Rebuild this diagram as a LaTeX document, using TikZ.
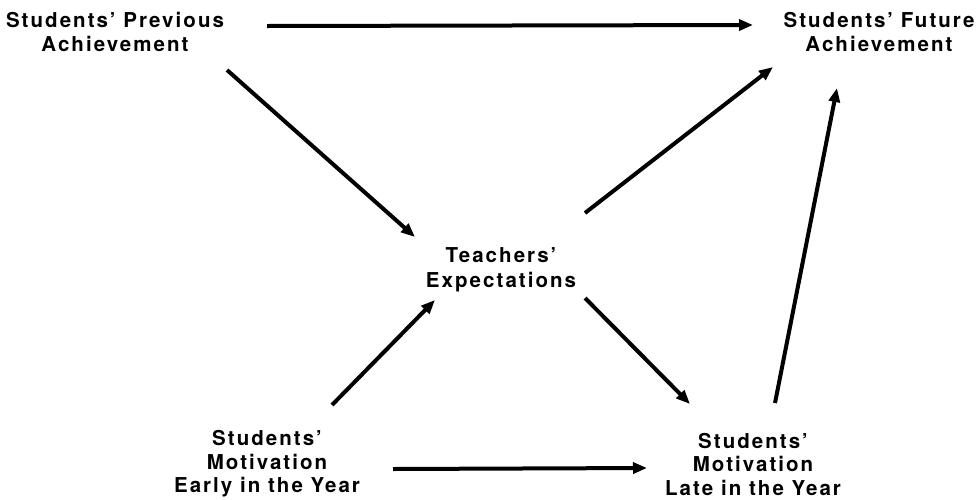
\documentclass[tikz,border=0pt]{standalone}
\usepackage{fontspec}
\setmainfont{TeX Gyre Heros}[LetterSpace=10]
\usetikzlibrary{arrows.meta}
\begin{document}
\begin{tikzpicture}[x=1pt,y=-1pt,
  label/.style={align=center,inner sep=0pt,anchor=center,
    font=\fontsize{20.5}{24.5}\selectfont\bfseries},
  tight/.style={label,font=\fontsize{20.5}{23.5}\selectfont\bfseries},
  link/.style={line width=4pt,-{Triangle[length=14pt,width=11pt]}}]
\useasboundingbox (0,0) rectangle (977,499);

% variables
\node[label] (P) at (115,32)  {Students’ Previous\\Achievement};
\node[label] (F) at (879,32)  {Students’ Future\\Achievement};
\node[label] (T) at (501,270) {Teachers’\\Expectations};
\node[tight] (E) at (267,464) {Students’\\Motivation\\Early in the Year};
\node[tight] (L) at (753,464) {Students’\\Motivation\\Late in the Year};

% paths
\draw[link] ([shift={(152,-6)}]P.center) -- ([shift={(-126,-7)}]F.center);
\draw[link] ([shift={(112,38)}]P.center)  -- ([shift={(-86,-33)}]T.center);
\draw[link] ([shift={(84,-57)}]T.center)  -- ([shift={(-106,35)}]F.center);
\draw[link] ([shift={(22,-61)}]L.center)  -- ([shift={(-42,56)}]F.center);
\draw[link] ([shift={(65,-59)}]E.center)  -- ([shift={(-66,30)}]T.center);
\draw[link] ([shift={(84,28)}]T.center)   -- ([shift={(-63,-60)}]L.center);
\draw[link] ([shift={(126,5)}]E.center)   -- ([shift={(-106,4)}]L.center);
\end{tikzpicture}
\end{document}
